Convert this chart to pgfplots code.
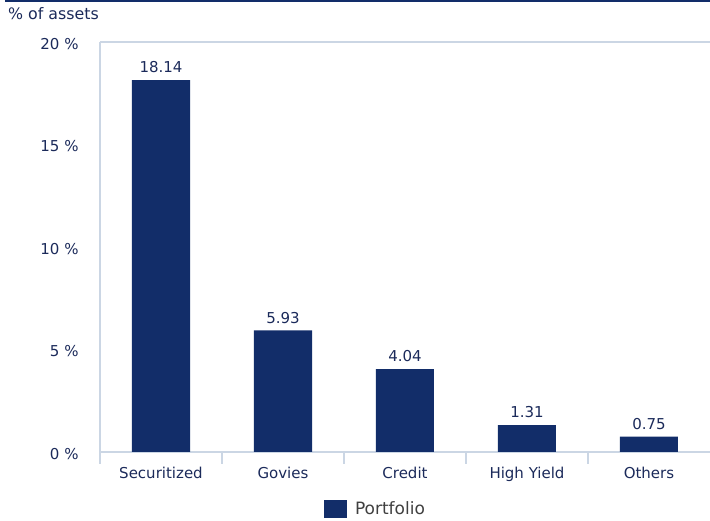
\documentclass[border=0pt]{standalone}
\usepackage{pgfplots}
\pgfplotsset{compat=1.18}
\usepackage{fontspec}
\setmainfont{DejaVu Sans}
\definecolor{navy}{HTML}{122D69}
\definecolor{txt}{HTML}{1B2A5A}
\definecolor{axgray}{HTML}{CBD6E4}
\definecolor{leggray}{HTML}{404040}
\newcommand{\chartfont}{\fontsize{15}{18}\selectfont}
\begin{document}
\begin{tikzpicture}[x=1pt,y=1pt]
\useasboundingbox (0,0) rectangle (710,521);
% top rule and axis caption
\fill[navy] (5,519) rectangle (710,521);
\node[anchor=west, inner sep=0pt, text=txt, font=\fontsize{15.8}{18}\selectfont] at (8,507) {\% of assets};
\begin{axis}[
    at={(100pt,69pt)}, anchor=south west,
    scale only axis, width=610pt, height=410pt,
    xmin=-0.5, xmax=4.5, ymin=0, ymax=20,
    axis x line*=bottom, axis y line*=left,
    axis line style={axgray, line width=1.5pt, -},
    /pgf/number format/assume math mode=true,
    font=\chartfont,
    tick label style={text=txt},
    xtick={0,1,2,3,4},
    xticklabels={Securitized,Govies,Credit,High Yield,Others},
    major x tick style={draw=none},
    minor xtick={-0.5,0.5,1.5,2.5,3.5},
    minor x tick style={axgray, line width=1.5pt},
    minor tick length=12pt,
    tick align=outside,
    xticklabel style={inner sep=0pt, anchor=north, yshift=-11pt},
    ytick={0,5,10,15,20},
    yticklabel={\pgfmathprintnumber{\tick}~\%},
    y tick style={draw=none},
    yticklabel style={inner sep=0pt, anchor=east, xshift=-17pt, yshift=-2pt},
    legend entries={Portfolio},
    legend image code/.code={\fill[navy] (0pt,-9pt) rectangle (23pt,9pt); \path (29pt,0pt);},
    legend style={at={(0.4516,-0.139)}, anchor=center, draw=none, fill=none,
        font=\fontsize{17}{20}\selectfont, text=leggray, inner sep=0pt},
]
\draw[axgray, line width=1.5pt] (rel axis cs:0,1) -- (rel axis cs:1,1);
\addplot[ybar, bar width=58pt, fill=navy, draw=none,
    nodes near coords,
    nodes near coords style={text=txt, font=\chartfont, inner sep=0pt, yshift=7pt,
        /pgf/number format/.cd, fixed, fixed zerofill, precision=2}]
    coordinates {(0,18.14) (1,5.93) (2,4.04) (3,1.31) (4,0.75)};
\end{axis}
\end{tikzpicture}
\end{document}
